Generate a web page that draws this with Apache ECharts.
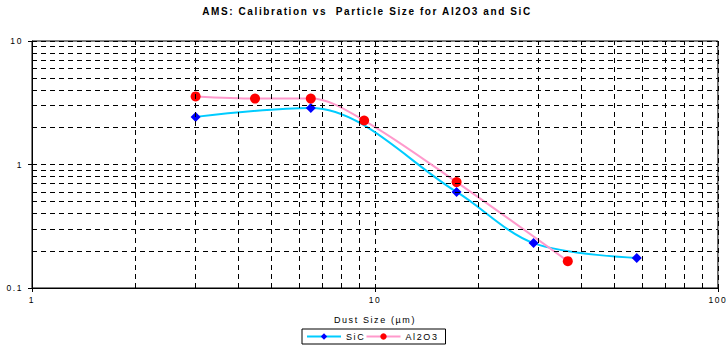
<!DOCTYPE html>
<html>
<head>
<meta charset="utf-8">
<script src="https://cdn.jsdelivr.net/npm/echarts@6/dist/echarts.min.js"></script>
<style>
  html, body { margin: 0; padding: 0; background: #fff; }
  #chart { width: 728px; height: 349px; }
  /* wide, airy lettering for all chart text */
  #chart svg text { letter-spacing: 1.6px; }
</style>
</head>
<body>
<div id="chart"></div>
<script>
// Particle sizes (µm) and instrument calibration values
const sicSize   = [3, 6.5, 17.3, 29, 58];
const sicValue  = [2.43, 2.87, 0.6, 0.231, 0.175];
const aloSize   = [3, 4.47, 6.5, 9.3, 17.3, 36.5];
const aloValue  = [3.56, 3.42, 3.42, 2.27, 0.72, 0.165];

// Intermediate gridline positions inside each decade
const xMinorGrid = [2, 3, 4, 5, 6, 7, 8, 9, 20, 30, 40, 50, 60, 70, 80, 90];
const yMinorGrid = [0.2, 0.3, 0.4, 0.5, 0.6, 0.7, 0.8, 0.9, 2, 3, 4, 5, 6, 7, 8, 9];

const FONT = 'Liberation Sans, Arial, sans-serif';
const dash = [5, 4];

const pairs = (xs, ys) => xs.map((x, i) => [x, ys[i]]);

const chart = echarts.init(document.getElementById('chart'), null, { renderer: 'svg' });

chart.setOption({
  animation: false,
  backgroundColor: '#fff',
  title: {
    text: 'AMS: Calibration vs  Particle Size for Al2O3 and SiC',
    left: 362,
    textAlign: 'center',
    top: 1,
    textStyle: { fontFamily: FONT, fontSize: 10, fontWeight: 'bold', color: '#000' }
  },
  grid: {
    left: 32, right: 9, top: 41, bottom: 61,
    show: true, borderColor: '#000', borderWidth: 1, backgroundColor: '#fff'
  },
  legend: {
    data: ['SiC', 'Al2O3'],
    left: 302,
    top: 329,
    itemWidth: 34,
    itemHeight: 8,
    itemGap: 5,
    padding: [3, 15, 3, 4],
    borderColor: '#000',
    borderWidth: 1,
    borderRadius: 0,
    textStyle: { fontFamily: FONT, fontSize: 9, color: '#000' }
  },
  xAxis: {
    type: 'log',
    logBase: 10,
    min: 1,
    max: 100,
    name: 'Dust Size (µm)',
    nameLocation: 'middle',
    nameGap: 27,
    nameTextStyle: { fontFamily: FONT, fontSize: 9, color: '#000' },
    axisLine: { lineStyle: { color: '#000', width: 1 } },
    axisTick: { show: true, length: 4, lineStyle: { color: '#000' } },
    axisLabel: { fontFamily: FONT, fontSize: 8.5, color: '#000', margin: 7 },
    splitLine: { show: true, lineStyle: { color: '#000', type: dash, width: 1 } }
  },
  yAxis: {
    type: 'log',
    logBase: 10,
    min: 0.1,
    max: 10,
    axisLine: { show: true, lineStyle: { color: '#000', width: 1 } },
    axisTick: { show: true, length: 4, lineStyle: { color: '#000' } },
    axisLabel: { fontFamily: FONT, fontSize: 8.5, color: '#000', margin: 9 },
    splitLine: { show: true, lineStyle: { color: '#000', type: dash, width: 1 } }
  },
  series: [
    {
      // carrier for the intermediate dashed gridlines
      name: 'grid',
      type: 'line',
      data: [],
      z: 1,
      silent: true,
      markLine: {
        silent: true,
        symbol: 'none',
        animation: false,
        label: { show: false },
        lineStyle: { color: '#000', type: dash, width: 1 },
        data: xMinorGrid.map(v => ({ xAxis: v }))
          .concat(yMinorGrid.map(v => ({ yAxis: v })))
      }
    },
    {
      name: 'SiC',
      type: 'line',
      z: 3,
      data: pairs(sicSize, sicValue),
      smooth: 0.33,
      symbol: 'diamond',
      symbolSize: 10,
      lineStyle: { color: '#00ccff', width: 2 },
      itemStyle: { color: '#0000ff' }
    },
    {
      name: 'Al2O3',
      type: 'line',
      z: 4,
      data: pairs(aloSize, aloValue),
      smooth: 0.33,
      symbol: 'circle',
      symbolSize: 10,
      lineStyle: { color: '#ff99cc', width: 2 },
      itemStyle: { color: '#ff0000' }
    }
  ]
});
</script>
</body>
</html>
